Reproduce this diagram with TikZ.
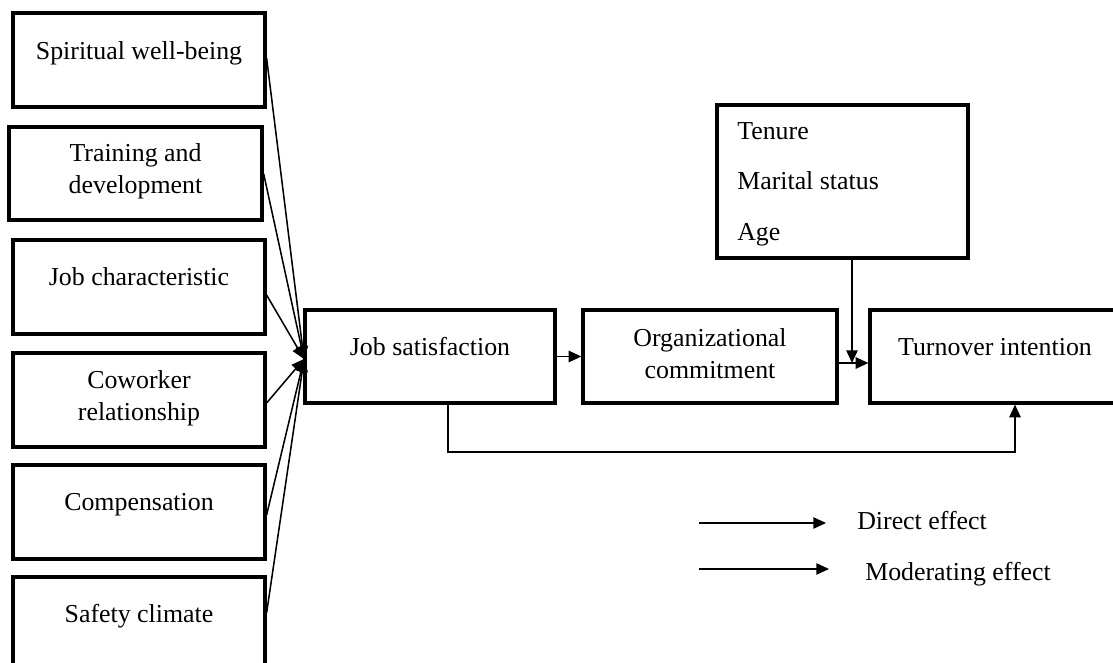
\documentclass[tikz,border=0pt]{standalone}
\usepackage{fontspec}
\setmainfont{Liberation Serif}
\usetikzlibrary{arrows.meta,fit}
\begin{document}
\begin{tikzpicture}[x=0.75pt,y=-0.75pt,
  box/.style={draw, line width=2.4pt, inner sep=0pt},
  txt/.style={font=\fontsize{19.4pt}{24pt}\selectfont, inner sep=0pt, align=center, anchor=base},
  ltxt/.style={font=\fontsize{19.4pt}{24pt}\selectfont, inner sep=0pt, anchor=base west},
  arr/.style={line width=1.15pt, -{Triangle[length=9.5pt,width=8.5pt]}},
  ln/.style={line width=1.15pt}]
\useasboundingbox (0,0) rectangle (1113,663);

% left boxes
\node[box, fit={(13,13) (265,107)}] (b1) {};
\node[box, fit={(9,127) (262,220)}] (b2) {};
\node[box, fit={(13,240) (265,334)}] (b3) {};
\node[box, fit={(13,353) (265,447)}] (b4) {};
\node[box, fit={(13,465) (265,559)}] (b5) {};
\node[box, fit={(13,577) (265,680)}] (b6) {};

\node[txt] (t1) at (139,60) {Spiritual well-being};
\node[txt] (t2) at (135.5,193) {Training and\\development};
\node[txt] (t3) at (139,285) {Job characteristic};
\node[txt] (t4) at (139,420) {Coworker\\relationship};
\node[txt] (t5) at (139,510) {Compensation};
\node[txt] (t6) at (139,622) {Safety climate};

% main boxes
\node[box, fit={(305,310) (555,403)}] (js) {};
\node[box, fit={(583,310) (837,403)}] (oc) {};
\node[box, fit={(870,310) (1130,403)}] (ti) {};
\node[box, fit={(717,105) (968,258)}] (mod) {};

\node[txt] (tjs) at (430,355) {Job satisfaction};
\node[txt] (toc) at (710,378) {Organizational\\commitment};
\node[txt] (tti) at (995,355) {Turnover intention};
\node[ltxt] (tm1) at (737,140) {Tenure};
\node[ltxt] (tm2) at (737,190) {Marital status};
\node[ltxt] (tm3) at (737,240) {Age};

% converging arrows
\coordinate (conv) at (304,359);
\draw[arr] ([yshift=1.5pt]b1.east) -- (conv);
\draw[arr] (b2.east) -- (conv);
\draw[arr] ([yshift=-6pt]b3.east) -- (conv);
\draw[arr] ([yshift=-2.25pt]b4.east) -- (conv);
\draw[arr] ([yshift=-2.25pt]b5.east) -- (conv);
\draw[arr] ([yshift=11.6pt]b6.east) -- (conv);

% chain
\draw[arr] (js.east) -- (oc.west);
\coordinate (m) at (852,363);
\draw[arr] (oc.east |- m) -- (ti.west |- m);
\draw[arr] (mod.south -| m) -- (m);

% bottom connector
\coordinate (jb) at (448,452);
\coordinate (tb) at (1015,452);
\draw[arr] (js.south -| jb) |- (tb) -- (ti.south -| tb);

% legend
\coordinate (l1a) at (699,523);
\coordinate (l1b) at (826,523);
\coordinate (l2a) at (699,569);
\coordinate (l2b) at (829,569);
\draw[arr] (l1a) -- (l1b);
\draw[arr] (l2a) -- (l2b);
\node[ltxt] (le1) at (857,529) {Direct effect};
\node[ltxt] (le2) at (865,580) {Moderating effect};
\end{tikzpicture}
\end{document}
